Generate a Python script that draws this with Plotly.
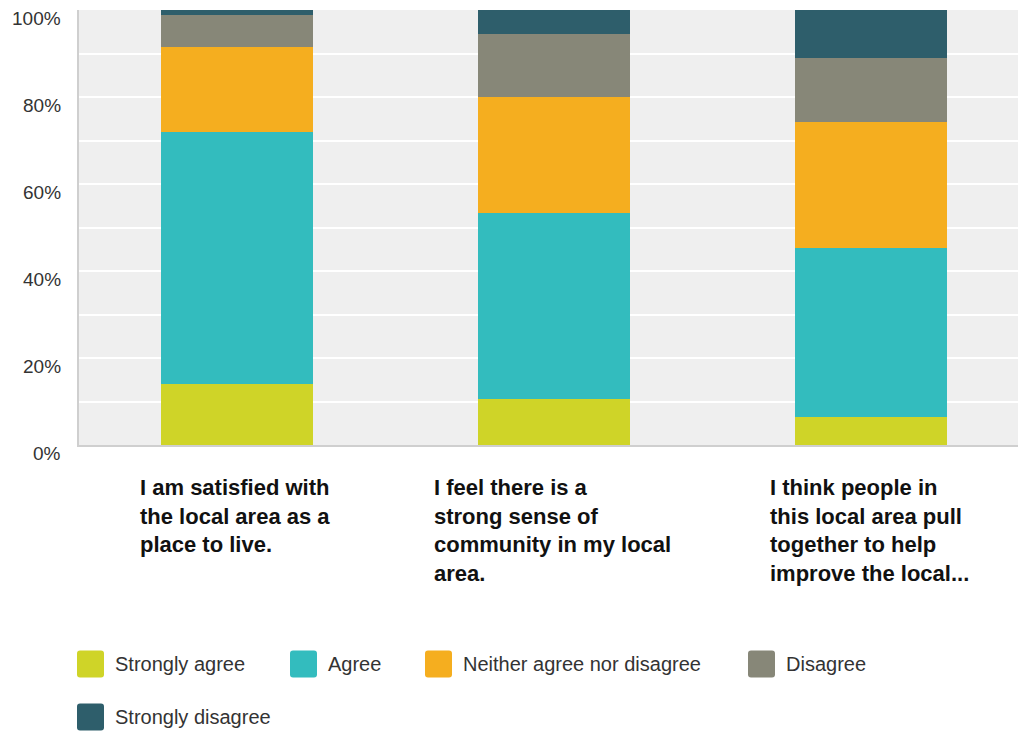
import plotly.graph_objects as go

# Survey statements (x categories) and wrapped label text
statements = [
    "I am satisfied with<br>the local area as a<br>place to live.",
    "I feel there is a<br>strong sense of<br>community in my local<br>area.",
    "I think people in<br>this local area pull<br>together to help<br>improve the local...",
]

# Response shares (%) per statement, bottom to top of each stack
strongly_agree = [14.0, 10.6, 6.5]
agree = [57.9, 42.7, 38.7]
neither = [19.5, 26.6, 29.1]
disagree = [7.5, 14.6, 14.6]
strongly_disagree = [1.1, 5.5, 11.1]

series_names = ["Strongly agree", "Agree", "Neither agree nor disagree",
                "Disagree", "Strongly disagree"]
series_values = [strongly_agree, agree, neither, disagree, strongly_disagree]
series_colors = ["#cfd428", "#33bcbe", "#f5ae1f", "#878778", "#2e5e6b"]

y_ticks = [0, 20, 40, 60, 80, 100]
y_tick_labels = [f"{v}%" for v in y_ticks]

# Page geometry (pixels)
W, H = 1018, 733
PLOT_L, PLOT_R, PLOT_T, PLOT_B = 79, 1018, 10, 445
PW, PH = PLOT_R - PLOT_L, PLOT_B - PLOT_T


def px_x(px):
    return (px - PLOT_L) / PW


def px_y(py):
    return (PLOT_B - py) / PH


x_idx = list(range(len(statements)))

fig = go.Figure()
for name, vals, col in zip(series_names, series_values, series_colors):
    fig.add_trace(go.Bar(
        x=x_idx, y=vals, name=name, width=0.48,
        marker=dict(color=col, line=dict(width=0)),
        showlegend=False,
    ))

# Statement labels under each bar: block centred on the bar, lines left-aligned
annotations = []
for i, txt in enumerate(statements):
    annotations.append(dict(
        x=i, xref="x", y=px_y(473), yref="paper",
        xanchor="center", yanchor="top", align="left", xshift=-2,
        text="<b>" + txt + "</b>", showarrow=False,
        font=dict(family="Liberation Sans Narrow, Arial Narrow, Liberation Sans, Arial",
                  size=22, color="#111111"),
    ))

# Y tick labels sit just below their gridlines
for v, lab in zip(y_ticks, y_tick_labels):
    annotations.append(dict(
        x=px_x(63), xref="paper", y=v, yref="y", yshift=-8,
        xanchor="right", yanchor="middle", text=lab, showarrow=False,
        font=dict(family="Liberation Sans, Arial", size=19, color="#333333"),
    ))

# Legend drawn as rounded swatches with labels
legend_slots = [(77, 664), (290, 664), (425, 664), (748, 664), (77, 717)]
SW = 27
shapes = []
for (lx, ly), name, col in zip(legend_slots, series_names, series_colors):
    x0, x1 = px_x(lx), px_x(lx + SW)
    y0, y1 = px_y(ly + SW / 2), px_y(ly - SW / 2)
    rx, ry = 3 / PW, 3 / PH
    path = (f"M{x0 + rx},{y0} L{x1 - rx},{y0} Q{x1},{y0} {x1},{y0 + ry} "
            f"L{x1},{y1 - ry} Q{x1},{y1} {x1 - rx},{y1} L{x0 + rx},{y1} "
            f"Q{x0},{y1} {x0},{y1 - ry} L{x0},{y0 + ry} Q{x0},{y0} {x0 + rx},{y0} Z")
    shapes.append(dict(type="path", path=path, xref="paper", yref="paper",
                       fillcolor=col, line=dict(width=0)))
    annotations.append(dict(
        x=px_x(lx + SW + 9), y=px_y(ly), xref="paper", yref="paper",
        xanchor="left", yanchor="middle", text=name, showarrow=False,
        font=dict(family="Liberation Sans, Arial", size=20, color="#333333"),
    ))

fig.update_layout(
    width=W, height=H,
    margin=dict(l=PLOT_L, r=W - PLOT_R, t=PLOT_T, b=H - PLOT_B, pad=0),
    barmode="stack",
    paper_bgcolor="#ffffff",
    plot_bgcolor="#efefef",
    bargap=0,
    showlegend=False,
    annotations=annotations,
    shapes=shapes,
    xaxis=dict(
        range=[-0.5, 2.464], showticklabels=False, showgrid=False,
        zeroline=False, showline=True, linecolor="#cfcfcf", linewidth=2,
        ticks="", fixedrange=True,
    ),
    yaxis=dict(
        range=[0, 100], tickvals=y_ticks, showticklabels=False,
        showgrid=True, gridcolor="#ffffff", gridwidth=2,
        minor=dict(dtick=10, showgrid=True, gridcolor="#ffffff", gridwidth=2),
        zeroline=False, showline=True, linecolor="#cfcfcf", linewidth=2,
        ticks="", fixedrange=True,
    ),
)

fig.write_html("out.html")
